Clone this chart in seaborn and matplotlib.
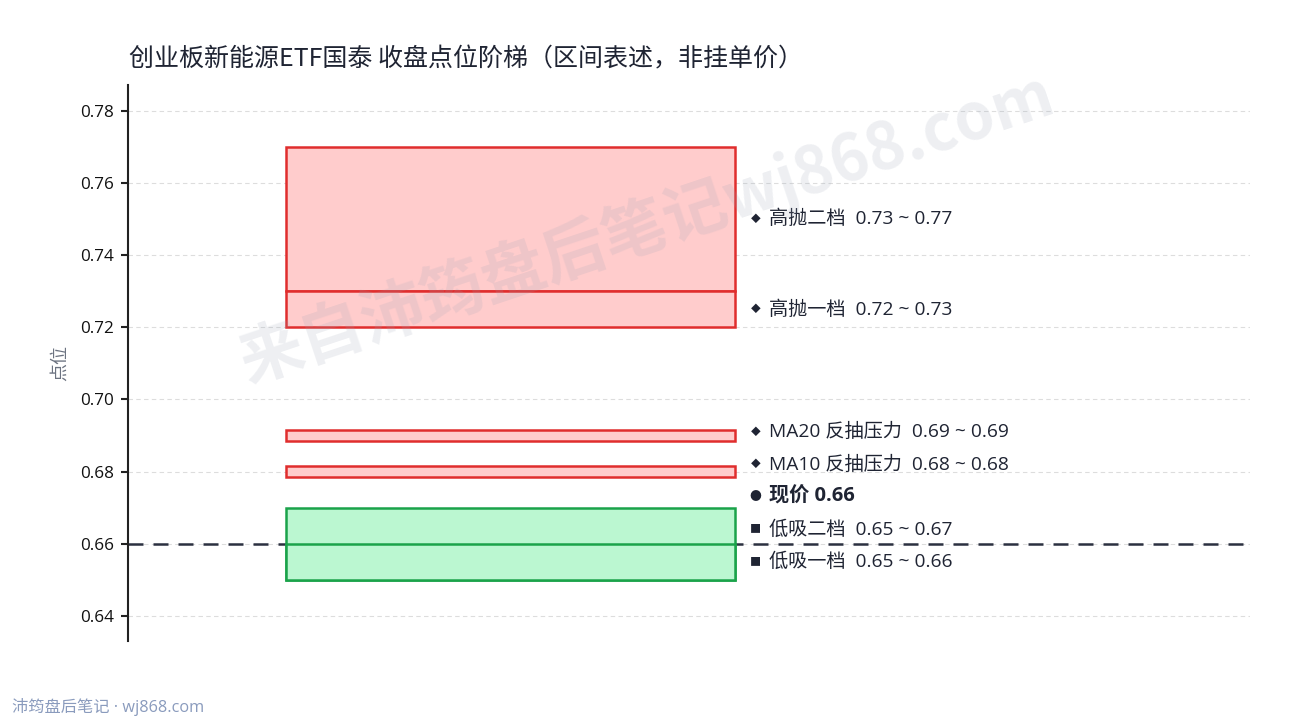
import matplotlib
matplotlib.use("Agg")
import matplotlib.pyplot as plt
import seaborn as sns
import numpy as np

# ---------------- data ----------------
title = "创业板新能源ETF国泰 收盘点位阶梯（区间表述，非挂单价）"
zone_names = ["高抛二档", "高抛一档", "MA20 反抽压力", "MA10 反抽压力", "低吸二档", "低吸一档"]
zone_low = [0.73, 0.72, 0.6885, 0.6785, 0.65, 0.65]
zone_high = [0.77, 0.73, 0.6915, 0.6815, 0.67, 0.66]
zone_kind = ["resist", "resist", "resist", "resist", "support", "support"]
price_label = "现价"
price_value = 0.66
y_ticks = [0.64, 0.66, 0.68, 0.70, 0.72, 0.74, 0.76, 0.78]
y_label = "点位"
watermark = "来自沛筠盘后笔记wj868.com"
footer = "沛筠盘后笔记 · wj868.com"

# ---------------- style ----------------
sns.set_theme(style="white")
CJK = ["Noto Sans CJK SC", "DejaVu Sans"]
LAT = ["Open Sans", "Noto Sans CJK SC", "DejaVu Sans"]
plt.rcParams["font.family"] = CJK
plt.rcParams["axes.unicode_minus"] = False

RED_EDGE, RED_FILL = "#e02d2d", "#ffcccc"
GREEN_EDGE, GREEN_FILL = "#1aa34a", "#bbf7d1"
DARK = "#1f2433"

fig = plt.figure(figsize=(12.9, 7.2), dpi=100)
ax = fig.add_axes([0.0992, 0.110, 0.870, 0.772])

ax.set_xlim(0, 1)
ax.set_ylim(0.6331, 0.7872)

# current price dashed line (under boxes)
ax.axhline(price_value, color="#2b3040", lw=1.8, ls=(0, (6, 4)), zorder=2)

# zone boxes
bar_x, bar_w = 0.341, 0.40
for lo, hi, kind in zip(zone_low, zone_high, zone_kind):
    ec = RED_EDGE if kind == "resist" else GREEN_EDGE
    fc = RED_FILL if kind == "resist" else GREEN_FILL
    ax.bar(bar_x, hi - lo, bottom=lo, width=bar_w, color=fc, edgecolor=ec,
           linewidth=1.8, zorder=3)

# labels with simple bottom-up de-overlap
entries = []
for name, lo, hi, kind in zip(zone_names, zone_low, zone_high, zone_kind):
    entries.append(((lo + hi) / 2, kind, f"{name}  {lo:.2f} ~ {hi:.2f}"))
entries.append((price_value, "price", f"{price_label} {price_value:.2f}"))
entries.sort(key=lambda e: e[0])
gap = 0.009
placed = []
last = -1
for mid, kind, txt in entries:
    y = max(mid, last + gap) if placed else mid
    placed.append((y, kind, txt))
    last = y

sym = {"resist": "◆", "support": "■", "price": "●"}
msize = {"resist": 7, "support": 8, "price": 8.5}
for y, kind, txt in placed:
    ax.text(0.559, y, sym[kind], fontsize=msize[kind], color=DARK, family=CJK,
            ha="center", va="center", zorder=5)
    ax.text(0.571, y, txt, fontsize=14.5 if kind == "price" else 13.8, family=LAT,
            fontweight="bold" if kind == "price" else "normal",
            color=DARK, ha="left", va="center", zorder=5)

# axes styling
ax.set_yticks(y_ticks)
ax.set_yticklabels([f"{t:.2f}" for t in y_ticks], fontsize=12.3, color="#111111",
                   family=LAT)
ax.set_xticks([])
ax.yaxis.grid(True, color="#dddddd", ls=(0, (4, 3)), lw=0.8)
ax.set_axisbelow(True)
for s in ["top", "right", "bottom"]:
    ax.spines[s].set_visible(False)
ax.spines["left"].set_color("#222222")
ax.spines["left"].set_linewidth(1.5)
ax.tick_params(axis="y", left=True, length=5, width=1.5, color="#222222", pad=5)
ax.set_ylabel(y_label, fontsize=13, color="#6b7280", labelpad=8)

fig.text(0.1, 0.917, title, fontsize=18, color="#1f2433", ha="left", va="center")

# watermark
fig.text(0.501, 0.683, watermark, fontsize=46, fontweight="bold", color="#9aa3b5",
         alpha=0.17, rotation=18.5, ha="center", va="center", zorder=10)

fig.text(0.009, 0.018, footer, fontsize=11.7, color="#8a9bbd", ha="left", va="center",
         family=LAT)

fig.savefig("out.png", dpi=100)
